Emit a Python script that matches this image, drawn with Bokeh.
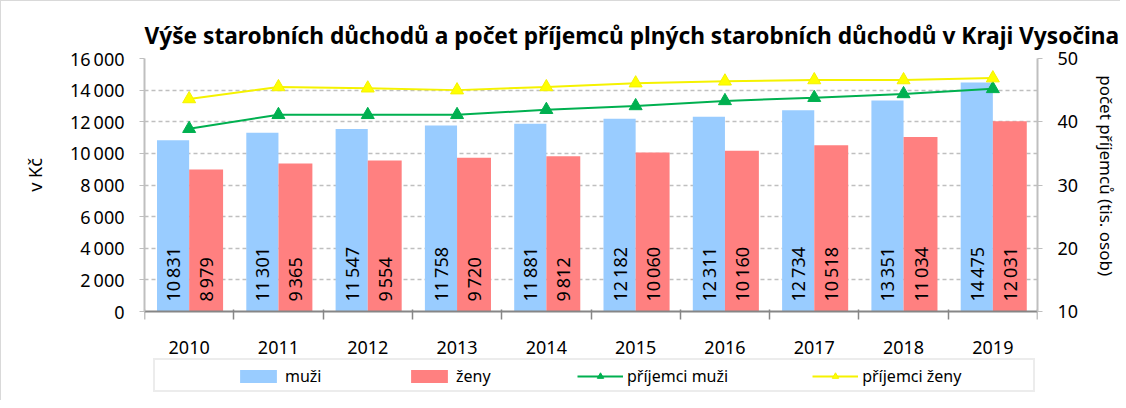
import math
from bokeh.plotting import figure
from bokeh.models import (Range1d, LinearAxis, FixedTicker, ColumnDataSource,
                          Legend, LegendItem)
from bokeh.core.properties import value
from bokeh.embed import file_html
from bokeh.resources import INLINE

# ---- data ----
years = ["2010", "2011", "2012", "2013", "2014", "2015", "2016", "2017", "2018", "2019"]
muzi = [10831, 11301, 11547, 11758, 11881, 12182, 12311, 12734, 13351, 14475]
zeny = [8979, 9365, 9554, 9720, 9812, 10060, 10160, 10518, 11034, 12031]
prijemci_muzi = [38.9, 41.1, 41.1, 41.1, 41.9, 42.5, 43.3, 43.8, 44.4, 45.2]
prijemci_zeny = [43.6, 45.5, 45.3, 45.0, 45.5, 46.1, 46.4, 46.6, 46.6, 46.9]
y_ticks = [0, 2000, 4000, 6000, 8000, 10000, 12000, 14000, 16000]
y2_ticks = [10, 20, 30, 40, 50]
legend_labels = ["muži", "ženy", "příjemci muži", "příjemci ženy"]
y_label = "v Kč"
y2_label = "počet příjemců (tis. osob)"
title_text = "Výše starobních důchodů a počet příjemců  plných starobních důchodů v Kraji Vysočina"

FONT = "Noto Sans"
SP = "\u2009"
NBSP = "\u00a0"

# layout (pixels): value area height and the strip below it for labels + legend
AREA_PX = 253
EXTRA_PX = 83


def fmt(v):
    return f"{v:,}".replace(",", SP)


n = len(years)
centers = [i + 0.5 for i in range(n)]
src = ColumnDataSource(dict(
    x=centers,
    x_m=[c - 0.18 for c in centers],
    x_z=[c + 0.19 for c in centers],
    muzi=muzi, zeny=zeny,
    lab_m=[fmt(v) for v in muzi],
    lab_z=[fmt(v) for v in zeny],
    pm=prijemci_muzi, pz=prijemci_zeny,
))

y0, y1 = y_ticks[0], y_ticks[-1]
r0, r1 = y2_ticks[0], y2_ticks[-1]
y_start = y0 - (y1 - y0) * EXTRA_PX / AREA_PX
r_start = r0 - (r1 - r0) * EXTRA_PX / AREA_PX

p = figure(width=1120, height=400, output_backend="svg", toolbar_location=None,
           x_range=Range1d(0, n), y_range=Range1d(y_start, y1),
           min_border_left=143, min_border_right=83, min_border_top=57,
           min_border_bottom=7, title=title_text)
p.extra_y_ranges = {"r": Range1d(r_start, r1)}
p.outline_line_color = None
p.styles = {"border-left": "1px solid #D9D9D9", "border-top": "1px solid #D9D9D9"}

p.title.text_font = FONT
p.title.text_font_size = "22.7px"
p.title.text_font_style = "bold"
p.title.align = "left"
p.title.text_color = "black"
p.title.standoff = 16

# grid
p.xgrid.visible = False
p.ygrid.ticker = FixedTicker(ticks=y_ticks[1:])
p.ygrid.grid_line_color = "#BFBFBF"
p.ygrid.grid_line_dash = "4 3"
p.ygrid.grid_line_width = 1.5

# bars
bar_m = p.vbar(x="x_m", top="muzi", bottom=y0, width=0.36, source=src,
               fill_color="#99CCFF", line_color=None)
bar_z = p.vbar(x="x_z", top="zeny", bottom=y0, width=0.38, source=src,
               fill_color="#FF8080", line_color=None)

# value labels inside bars
for col, xcol in (("lab_m", "x_m"), ("lab_z", "x_z")):
    p.text(x=xcol, y=y0, text=col, source=src, angle=math.pi / 2,
           text_align="left", text_baseline="middle", y_offset=-10,
           text_font=value(FONT), text_font_size=value("18px"), text_color="black")

# lines
line_m = p.line(x="x", y="pm", source=src, y_range_name="r",
                line_color="#00B050", line_width=2)
tri_m = p.scatter(x="x", y="pm", source=src, y_range_name="r", marker="triangle",
                  size=13, fill_color="#00B050", line_color="#00B050")
line_z = p.line(x="x", y="pz", source=src, y_range_name="r",
                line_color="#F5F200", line_width=2)
tri_z = p.scatter(x="x", y="pz", source=src, y_range_name="r", marker="triangle",
                  size=13, fill_color="#FFFF00", line_color="#F5F200")

# x axis, pinned at value 0
xa = p.xaxis[0]
xa.fixed_location = y0
xa.ticker = FixedTicker(ticks=centers, minor_ticks=list(range(n + 1)))
xa.major_label_overrides = {c: y for c, y in zip(centers, years)}
xa.major_tick_line_color = None
xa.major_tick_out = 0
xa.major_tick_in = 0
xa.minor_tick_line_color = "#868686"
xa.minor_tick_line_width = 1.5
xa.minor_tick_out = 8
xa.minor_tick_in = 2
xa.axis_line_color = "#868686"
xa.axis_line_width = 2
xa.major_label_standoff = 21
xa.major_label_text_font = FONT
xa.major_label_text_font_size = "18px"
xa.major_label_text_color = "black"

# left axis (label padded so that it centres on the value area)
ya = p.yaxis[0]
ya.bounds = (y0, y1)
ya.ticker = FixedTicker(ticks=y_ticks)
ya.major_label_overrides = {t: fmt(t) for t in y_ticks}
ya.axis_line_color = "#BFBFBF"
ya.axis_line_width = 2
ya.major_tick_line_color = "#BFBFBF"
ya.major_tick_out = 5
ya.major_tick_in = 0
ya.minor_tick_line_color = None
ya.major_label_standoff = 15
ya.major_label_text_font = FONT
ya.major_label_text_font_size = "18px"
ya.major_label_text_color = "black"
ya.axis_label = NBSP * 22 + y_label
ya.axis_label_text_font = FONT
ya.axis_label_text_font_size = "18px"
ya.axis_label_text_font_style = "normal"
ya.axis_label_text_color = "black"
ya.axis_label_standoff = 20

# right axis (label padded so that it centres on the value area)
ra = LinearAxis(y_range_name="r", ticker=FixedTicker(ticks=y2_ticks), bounds=(r0, r1))
ra.axis_line_color = "#BFBFBF"
ra.axis_line_width = 2
ra.major_tick_line_color = "#BFBFBF"
ra.major_tick_out = 5
ra.major_tick_in = 0
ra.minor_tick_line_color = None
ra.major_label_standoff = 15
ra.major_label_text_font = FONT
ra.major_label_text_font_size = "18px"
ra.major_label_text_color = "black"
ra.axis_label = y2_label + NBSP * 23
ra.axis_label_text_font = FONT
ra.axis_label_text_font_size = "17px"
ra.axis_label_text_font_style = "normal"
ra.axis_label_text_color = "black"
ra.axis_label_standoff = 14
p.add_layout(ra, "right")

# legend frame
dummy = p.scatter(x=[], y=[], fill_alpha=0, line_alpha=0)
box = Legend(items=[LegendItem(label=" ", renderers=[dummy])],
             location=(9, 2), orientation="horizontal", padding=0, margin=0,
             glyph_width=1, glyph_height=30, label_width=877, label_height=30,
             label_standoff=0, border_line_color="#D9D9D9", border_line_width=2,
             background_fill_color="white", background_fill_alpha=1)
p.add_layout(box, "center")

leg = Legend(items=[
    LegendItem(label=legend_labels[0], renderers=[bar_m]),
    LegendItem(label=legend_labels[1], renderers=[bar_z]),
    LegendItem(label=legend_labels[2], renderers=[line_m, tri_m]),
    LegendItem(label=legend_labels[3], renderers=[line_z, tri_z]),
], location=(91, 7), orientation="horizontal", padding=0, margin=0,
    glyph_width=46, glyph_height=16, label_width=37, label_height=20,
    label_standoff=4, spacing=84, border_line_color=None,
    background_fill_alpha=0, label_text_font=FONT, label_text_font_size="16px",
    label_text_color="black")
p.add_layout(leg, "center")

open("out.html", "w").write(file_html(p, INLINE))
